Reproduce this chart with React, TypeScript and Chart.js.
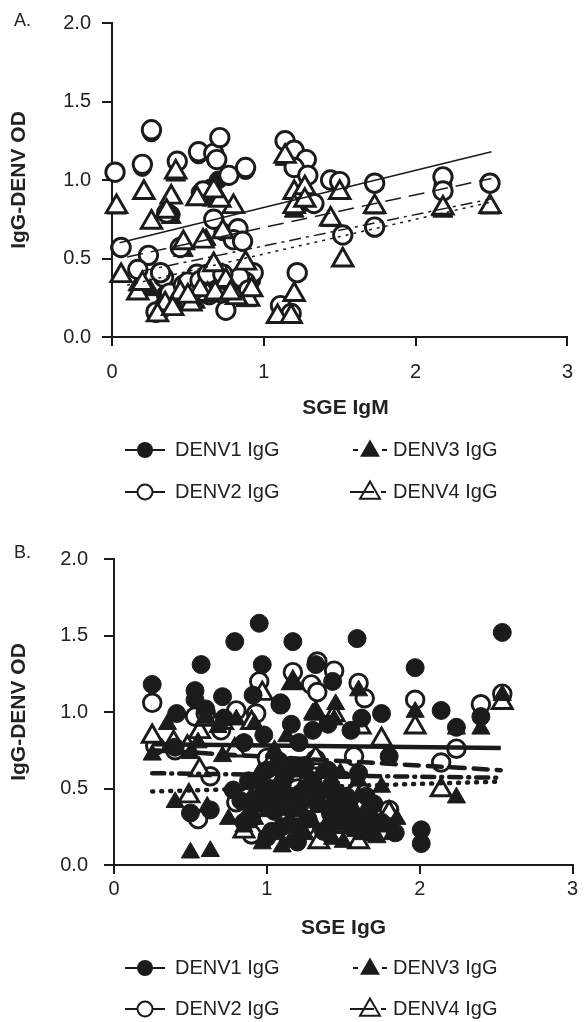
import React, { useEffect, useRef } from 'react';
import { Chart, registerables } from 'chart.js';

Chart.register(...registerables);

const FONT = "'Liberation Sans', Arial, Helvetica, sans-serif";
const INK = '#1b1b1b';
const TEXT = '#222222';

// ---------- shared labels ----------
const seriesNames = ['DENV1 IgG', 'DENV2 IgG', 'DENV3 IgG', 'DENV4 IgG'];
const xTickValues = [0, 1, 2, 3];
const yTickValues = [0, 0.5, 1.0, 1.5, 2.0];
const yAxisTitle = 'IgG-DENV OD';
const panelLetters = ['A.', 'B.'];
const xAxisTitles = ['SGE IgM', 'SGE IgG'];

// ---------- Panel A (SGE IgM) ----------
const aDenv1X = [0.05, 0.20, 0.39, 0.45, 0.58, 0.61, 0.65, 0.70, 0.73, 0.83, 1.25, 1.33, 1.50, 1.73, 2.18, 2.49, 0.29, 0.35, 0.40, 0.52, 0.60, 0.68, 0.75, 0.83, 0.92, 1.18, 1.11, 0.88, 0.57, 0.26];
const aDenv1Y = [0.57, 1.08, 0.78, 0.57, 0.92, 0.89, 0.95, 1.00, 0.67, 0.62, 0.85, 0.85, 0.98, 0.98, 0.97, 0.98, 0.15, 0.27, 0.21, 0.30, 0.32, 0.30, 0.33, 0.28, 0.36, 0.15, 0.20, 1.06, 1.16, 1.30];

const aDenv2X = [0.02, 0.20, 0.26, 0.43, 0.57, 0.67, 0.69, 0.71, 0.77, 0.88, 0.06, 0.67, 0.83, 0.80, 0.86, 0.45, 0.24, 0.17, 0.34, 0.38, 0.34, 0.29, 0.56, 0.52, 0.75, 0.93, 1.22, 1.11, 1.18, 1.14, 1.20, 1.28, 1.20, 1.29, 1.44, 1.50, 1.73, 1.73, 1.52, 2.18, 2.18, 2.49, 0.62, 0.70, 0.78, 0.88, 0.47, 0.36, 0.60, 1.33, 0.66, 0.86, 0.32, 0.50, 0.55, 0.58, 0.64, 0.68, 0.72, 0.76, 0.80, 0.84, 0.90, 0.63, 0.73];
const aDenv2Y = [1.05, 1.10, 1.32, 1.12, 1.18, 1.17, 1.13, 1.27, 1.03, 1.08, 0.57, 0.75, 0.69, 0.62, 0.61, 0.57, 0.52, 0.43, 0.38, 0.28, 0.19, 0.16, 0.40, 0.29, 0.17, 0.41, 0.41, 0.20, 0.15, 1.25, 1.19, 1.13, 1.08, 1.03, 1.00, 0.99, 0.98, 0.70, 0.65, 1.02, 0.93, 0.98, 0.33, 0.35, 0.30, 0.35, 0.33, 0.79, 0.93, 0.85, 0.31, 0.27, 0.41, 0.35, 0.28, 0.36, 0.27, 0.38, 0.28, 0.36, 0.33, 0.38, 0.30, 0.40, 0.40];

const aDenv3X = [0.03, 0.17, 0.25, 0.30, 0.35, 0.39, 0.47, 0.55, 0.62, 0.65, 0.70, 0.80, 0.88, 1.09, 1.20, 1.27, 1.44, 1.52, 1.73, 2.18, 2.49, 0.42, 1.14];
const aDenv3Y = [0.82, 0.33, 0.30, 0.15, 0.22, 0.76, 0.55, 0.22, 0.62, 0.28, 0.90, 0.27, 0.23, 0.13, 0.80, 0.86, 0.74, 0.49, 0.82, 0.80, 0.82, 1.03, 1.13];

const aDenv4X = [0.03, 0.21, 0.42, 0.39, 0.26, 0.06, 0.17, 0.47, 0.60, 0.67, 0.80, 0.71, 0.88, 0.52, 0.90, 1.20, 1.09, 1.14, 1.20, 1.20, 1.27, 1.27, 1.44, 1.50, 1.73, 1.52, 2.18, 2.49, 0.35, 0.30, 0.63, 0.75, 0.82, 0.20, 0.45, 0.58, 0.36, 0.67, 0.73, 1.18, 0.56, 0.50, 0.68, 0.78, 0.92, 0.40];
const aDenv4Y = [0.83, 0.92, 1.05, 0.89, 0.73, 0.39, 0.28, 0.60, 0.61, 0.46, 0.83, 0.87, 0.47, 0.21, 0.24, 0.27, 0.13, 1.15, 0.92, 0.83, 0.95, 0.87, 0.75, 0.92, 0.83, 0.49, 0.82, 0.83, 0.21, 0.14, 0.27, 0.36, 0.25, 0.34, 0.28, 0.30, 0.80, 0.93, 0.67, 0.13, 0.88, 0.26, 0.28, 0.28, 0.30, 0.18];

// regression lines A (end points)
const aFit1X = [0.05, 2.5]; const aFit1Y = [0.60, 1.18];
const aFit2X = [0.10, 2.5]; const aFit2Y = [0.51, 1.01];
const aFit3X = [0.20, 2.5]; const aFit3Y = [0.42, 0.88];
const aFit4X = [0.10, 2.5]; const aFit4Y = [0.33, 0.86];

// ---------- Panel B (SGE IgG) ----------
const bDenv1X = [0.95, 0.79, 1.17, 0.57, 0.97, 0.25, 0.53, 0.53, 0.71, 0.41, 0.91, 1.09, 1.32, 1.43, 1.59, 1.21, 1.30, 1.55, 0.50, 0.63, 0.78, 1.00, 1.08, 2.54, 1.97, 2.14, 1.75, 2.24, 2.40, 1.80, 2.01, 2.01, 1.67, 1.68, 1.84, 1.43, 0.83, 0.90, 0.95, 1.02, 1.05, 1.10, 1.12, 1.18, 1.22, 1.27, 1.30, 1.35, 1.40, 1.45, 1.50, 1.55, 1.60, 1.65, 1.20, 0.40, 0.72, 0.85, 1.16, 1.62, 0.98, 1.40, 0.60, 0.88, 0.93, 0.98, 1.03, 1.07, 1.13, 1.15, 1.25, 1.33, 1.37, 1.42, 1.47, 1.52, 1.57, 1.62, 1.70, 1.75, 1.25, 1.10, 0.85, 1.20, 1.00];
const bDenv1Y = [1.58, 1.46, 1.46, 1.31, 1.31, 1.18, 1.14, 1.08, 1.10, 0.99, 1.11, 1.06, 1.31, 1.20, 1.48, 0.80, 0.88, 0.88, 0.34, 0.36, 0.49, 0.62, 0.68, 1.52, 1.29, 1.01, 0.99, 0.90, 0.97, 0.71, 0.23, 0.14, 0.36, 0.21, 0.21, 0.31, 0.42, 0.30, 0.55, 0.50, 0.35, 0.25, 0.58, 0.45, 0.40, 0.30, 0.55, 0.48, 0.62, 0.45, 0.35, 0.25, 0.60, 0.45, 0.15, 0.77, 0.96, 0.80, 0.92, 0.96, 0.85, 0.92, 1.02, 0.55, 0.40, 0.48, 0.22, 0.45, 0.38, 0.65, 0.50, 0.40, 0.22, 0.52, 0.28, 0.45, 0.32, 0.30, 0.40, 0.28, 0.65, 0.52, 0.28, 0.25, 0.18];

const bDenv2X = [0.25, 0.53, 0.80, 0.95, 0.93, 1.17, 1.33, 1.44, 1.29, 1.33, 1.09, 0.40, 0.63, 0.80, 1.32, 1.42, 1.60, 1.64, 1.97, 2.40, 2.54, 2.24, 2.14, 1.57, 1.80, 1.64, 1.43, 0.60, 0.70, 1.00, 1.20, 0.90, 1.10, 1.50, 0.27, 0.55, 1.25];
const bDenv2Y = [1.06, 0.97, 1.01, 1.20, 0.99, 1.26, 1.33, 1.27, 1.18, 1.13, 1.05, 0.75, 0.58, 0.41, 0.69, 0.34, 1.19, 1.09, 1.08, 1.05, 1.12, 0.76, 0.67, 0.71, 0.36, 0.38, 0.33, 0.99, 0.88, 0.70, 0.50, 0.20, 0.45, 0.55, 0.78, 0.30, 0.25];

const bDenv3X = [0.25, 0.50, 0.63, 0.40, 0.61, 0.71, 0.97, 1.10, 0.50, 1.17, 1.32, 2.24, 2.24, 2.40, 2.54, 1.97, 1.75, 1.60, 1.44, 1.30, 0.55, 0.68, 0.75, 0.85, 0.90, 0.95, 1.00, 1.05, 1.08, 1.15, 1.20, 1.25, 1.28, 1.35, 1.38, 1.45, 1.50, 1.55, 1.60, 1.62, 1.70, 1.78, 1.85, 0.80, 0.92, 1.45, 1.13, 0.35, 0.60, 0.92, 0.97, 1.02, 1.07, 1.12, 1.17, 1.22, 1.30, 1.33, 1.40, 1.48, 1.52, 1.58, 1.65, 1.72, 1.82, 1.05, 1.27, 1.43, 0.88, 1.60, 1.15];
const bDenv3Y = [0.72, 0.08, 0.09, 0.41, 0.38, 0.71, 0.14, 0.12, 0.73, 1.19, 0.99, 0.44, 0.89, 0.89, 1.11, 1.00, 0.51, 1.14, 0.95, 0.99, 0.80, 0.90, 0.30, 0.25, 0.45, 0.60, 0.35, 0.75, 0.55, 0.30, 0.62, 0.20, 0.45, 0.60, 0.25, 0.50, 0.15, 0.40, 0.55, 0.20, 0.30, 0.25, 0.30, 0.95, 0.92, 1.05, 0.84, 0.92, 0.96, 0.30, 0.50, 0.42, 0.20, 0.48, 0.40, 0.35, 0.28, 0.52, 0.38, 0.60, 0.30, 0.22, 0.35, 0.18, 0.20, 0.62, 0.60, 0.17, 0.35, 0.45, 0.15];

const bDenv4X = [0.25, 0.39, 0.56, 0.49, 0.56, 0.79, 1.17, 1.44, 0.71, 0.90, 1.32, 1.61, 1.75, 1.97, 2.14, 2.54, 1.32, 1.80, 1.34, 0.97, 1.10, 1.20, 1.50, 1.60, 0.85, 1.02, 0.60, 1.40, 0.48];
const bDenv4Y = [0.84, 0.80, 0.87, 0.45, 0.62, 0.75, 1.19, 0.98, 0.93, 0.93, 0.70, 0.90, 0.82, 0.90, 0.49, 1.06, 0.99, 0.34, 0.15, 1.12, 0.40, 0.30, 0.25, 0.15, 0.22, 0.65, 0.95, 0.45, 0.77];

// regression lines B
const bFit1X = [0.25, 2.53]; const bFit1Y = [0.79, 0.765];
const bFit2X = [0.25, 2.53]; const bFit2Y = [0.75, 0.62];
const bFit3X = [0.25, 2.53]; const bFit3Y = [0.60, 0.57];
const bFit4X = [0.25, 2.53]; const bFit4Y = [0.48, 0.545];

const CANVAS_W = 587;
const CANVAS_H = 511;

const pts = (xs: number[], ys: number[]) => xs.map((x, i) => ({ x, y: ys[i] }));

type PanelSpec = {
  letter: string;
  xTitle: string;
  area: { top: number; bottom: number; left: number; right: number };
  xLabelPad: number;
  yLabelPad: number;
  letterPos: [number, number];
  xTitleY: number;
  yTitleX: number;
  legendRows: [number, number];
  data: { d1: [number[], number[]]; d2: [number[], number[]]; d3: [number[], number[]]; d4: [number[], number[]] };
  fits: [number[], number[]][];
  fitWidth: number;
  fitDashes: number[][];
  fitCaps: string[];
  sizes: { filledCircle: number; openCircle: number; filledTri: number; openTri: number };
  order: { d1: number; d2: number; d3: number; d4: number };
};

function drawTriangle(ctx: CanvasRenderingContext2D, x: number, y: number, r: number) {
  const a = (2 * Math.PI) / 3;
  ctx.beginPath();
  ctx.moveTo(x, y - r);
  ctx.lineTo(x + Math.sin(a) * r, y - Math.cos(a) * r);
  ctx.lineTo(x + Math.sin(2 * a) * r, y - Math.cos(2 * a) * r);
  ctx.closePath();
}

function drawLegend(ctx: CanvasRenderingContext2D, rows: [number, number]) {
  ctx.save();
  ctx.strokeStyle = INK;
  ctx.fillStyle = INK;
  ctx.lineWidth = 2;
  // DENV1: solid line + filled circle
  let y = rows[0];
  ctx.beginPath(); ctx.moveTo(125, y); ctx.lineTo(165, y); ctx.stroke();
  ctx.beginPath(); ctx.arc(145, y, 8, 0, Math.PI * 2); ctx.fill();
  // DENV2: solid line + open circle
  y = rows[1];
  ctx.beginPath(); ctx.moveTo(125, y); ctx.lineTo(165, y); ctx.stroke();
  ctx.beginPath(); ctx.arc(145, y, 7.5, 0, Math.PI * 2);
  ctx.fillStyle = '#fff'; ctx.fill(); ctx.stroke();
  ctx.fillStyle = INK;
  // DENV3: short dashes + filled triangle
  y = rows[0];
  ctx.beginPath(); ctx.moveTo(353, y); ctx.lineTo(358, y); ctx.moveTo(382, y); ctx.lineTo(387, y); ctx.stroke();
  drawTriangle(ctx, 370, y + 1, 11.5); ctx.fill();
  // DENV4: line then dash + open triangle
  y = rows[1];
  ctx.beginPath(); ctx.moveTo(350, y); ctx.lineTo(374, y); ctx.moveTo(381, y); ctx.lineTo(386, y); ctx.stroke();
  drawTriangle(ctx, 370, y + 1, 11.5);
  ctx.stroke();
  // labels
  ctx.fillStyle = TEXT;
  ctx.font = `20px ${FONT}`;
  ctx.textAlign = 'left';
  ctx.textBaseline = 'middle';
  ctx.fillText(seriesNames[0], 175, rows[0]);
  ctx.fillText(seriesNames[1], 175, rows[1]);
  ctx.fillText(seriesNames[2], 393, rows[0]);
  ctx.fillText(seriesNames[3], 393, rows[1]);
  ctx.restore();
}

function buildConfig(p: PanelSpec): any {
  const filled = (xs: number[], ys: number[], label: string, style: string, r: number, order: number) => ({
    label,
    data: pts(xs, ys),
    pointStyle: style,
    pointRadius: r,
    pointBorderWidth: 1,
    pointBackgroundColor: INK,
    pointBorderColor: INK,
    showLine: false,
    order,
    clip: false,
  });
  const open = (xs: number[], ys: number[], label: string, style: string, r: number, order: number) => ({
    label,
    data: pts(xs, ys),
    pointStyle: style,
    pointRadius: r,
    pointBorderWidth: 2.9,
    pointBackgroundColor: '#ffffff',
    pointBorderColor: INK,
    showLine: false,
    order,
    clip: false,
  });
  const fitSets = p.fits.map((f, i) => ({
    label: 'fit ' + seriesNames[i],
    data: pts(f[0], f[1]),
    showLine: true,
    pointRadius: 0,
    borderColor: INK,
    borderWidth: p.fitWidth,
    borderDash: p.fitDashes[i],
    borderCapStyle: p.fitCaps[i],
    order: 0,
    clip: false,
  }));
  const a = p.area;
  const overlay = {
    id: 'overlay' + p.letter,
    afterDraw(chart: any) {
      const ctx: CanvasRenderingContext2D = chart.ctx;
      ctx.save();
      ctx.fillStyle = TEXT;
      ctx.font = `18px ${FONT}`;
      ctx.textAlign = 'left';
      ctx.textBaseline = 'middle';
      ctx.fillText(p.letter, p.letterPos[0], p.letterPos[1]);
      ctx.font = `bold 21px ${FONT}`;
      ctx.textAlign = 'center';
      ctx.fillText(p.xTitle, (a.left + a.right) / 2 - 1, p.xTitleY);
      ctx.translate(p.yTitleX, (a.top + a.bottom) / 2);
      ctx.rotate(-Math.PI / 2);
      ctx.fillText(yAxisTitle, 0, 0);
      ctx.restore();
      drawLegend(ctx, p.legendRows);
    },
  };
  return {
    type: 'scatter',
    data: {
      datasets: [
        ...fitSets,
        filled(p.data.d1[0], p.data.d1[1], seriesNames[0], 'circle', p.sizes.filledCircle, p.order.d1),
        open(p.data.d2[0], p.data.d2[1], seriesNames[1], 'circle', p.sizes.openCircle, p.order.d2),
        filled(p.data.d3[0], p.data.d3[1], seriesNames[2], 'triangle', p.sizes.filledTri, p.order.d3),
        open(p.data.d4[0], p.data.d4[1], seriesNames[3], 'triangle', p.sizes.openTri, p.order.d4),
      ],
    },
    options: {
      responsive: false,
      animation: false,
      events: [],
      layout: { padding: { top: a.top, left: 0, right: CANVAS_W - a.right, bottom: 0 } },
      plugins: { legend: { display: false }, tooltip: { enabled: false } },
      scales: {
        x: {
          type: 'linear',
          min: 0,
          max: 3,
          afterBuildTicks: (s: any) => { s.ticks = xTickValues.map((v) => ({ value: v })); },
          afterFit: (s: any) => { s.height = CANVAS_H - a.bottom; },
          ticks: {
            color: TEXT,
            font: { family: FONT, size: 20 },
            padding: p.xLabelPad,
            maxRotation: 0,
            autoSkip: false,
            callback: (v: number) => String(v),
          },
          grid: { drawOnChartArea: false, drawTicks: true, tickLength: 9, color: INK, lineWidth: 2 },
          border: { display: true, color: INK, width: 2 },
        },
        y: {
          type: 'linear',
          min: 0,
          max: 2,
          afterBuildTicks: (s: any) => { s.ticks = yTickValues.map((v) => ({ value: v })); },
          afterFit: (s: any) => { s.width = a.left; },
          ticks: {
            color: TEXT,
            font: { family: FONT, size: 20 },
            padding: p.yLabelPad,
            autoSkip: false,
            callback: (v: number) => v.toFixed(1),
          },
          grid: { drawOnChartArea: false, drawTicks: true, tickLength: 10, color: INK, lineWidth: 2 },
          border: { display: true, color: INK, width: 2 },
        },
      },
    },
    plugins: [overlay],
  };
}

const panelA: PanelSpec = {
  letter: panelLetters[0],
  xTitle: xAxisTitles[0],
  area: { top: 23, bottom: 337, left: 112, right: 581 },
  xLabelPad: 14,
  yLabelPad: 11,
  letterPos: [14, 21],
  xTitleY: 408,
  yTitleX: 19,
  legendRows: [450, 492],
  data: { d1: [aDenv1X, aDenv1Y], d2: [aDenv2X, aDenv2Y], d3: [aDenv3X, aDenv3Y], d4: [aDenv4X, aDenv4Y] },
  fits: [[aFit1X, aFit1Y], [aFit2X, aFit2Y], [aFit3X, aFit3Y], [aFit4X, aFit4Y]],
  fitWidth: 1.5,
  fitDashes: [[], [16, 8], [12, 5, 3, 5], [3, 5]],
  fitCaps: ['butt', 'butt', 'butt', 'butt'],
  sizes: { filledCircle: 9, openCircle: 9.2, filledTri: 11.5, openTri: 11.8 },
  order: { d1: 4, d3: 3, d2: 2, d4: 1 },
};

const panelB: PanelSpec = {
  letter: panelLetters[1],
  xTitle: xAxisTitles[1],
  area: { top: 48, bottom: 354, left: 114, right: 575 },
  xLabelPad: 3,
  yLabelPad: 16,
  letterPos: [14, 42],
  xTitleY: 417,
  yTitleX: 19,
  legendRows: [457, 498],
  data: { d1: [bDenv1X, bDenv1Y], d2: [bDenv2X, bDenv2Y], d3: [bDenv3X, bDenv3Y], d4: [bDenv4X, bDenv4Y] },
  fits: [[bFit1X, bFit1Y], [bFit2X, bFit2Y], [bFit3X, bFit3Y], [bFit4X, bFit4Y]],
  fitWidth: 4.5,
  fitDashes: [[], [14, 9], [12, 7, 1, 7], [1, 8]],
  fitCaps: ['butt', 'round', 'round', 'round'],
  sizes: { filledCircle: 9, openCircle: 8.8, filledTri: 10.5, openTri: 11.5 },
  order: { d2: 4, d4: 3, d1: 2, d3: 1 },
};

function PanelChart({ spec, top }: { spec: PanelSpec; top: number }) {
  const ref = useRef<HTMLCanvasElement | null>(null);
  useEffect(() => {
    if (!ref.current) return;
    const chart = new Chart(ref.current, buildConfig(spec));
    return () => chart.destroy();
  }, [spec]);
  return (
    <canvas
      ref={ref}
      width={CANVAS_W}
      height={CANVAS_H}
      style={{ position: 'absolute', left: 0, top, width: CANVAS_W, height: CANVAS_H, display: 'block' }}
    />
  );
}

export default function App() {
  return (
    <div style={{ position: 'absolute', left: 0, top: 0, width: CANVAS_W, height: CANVAS_H * 2, background: '#fff' }}>
      <PanelChart spec={panelA} top={0} />
      <PanelChart spec={panelB} top={CANVAS_H} />
    </div>
  );
}
